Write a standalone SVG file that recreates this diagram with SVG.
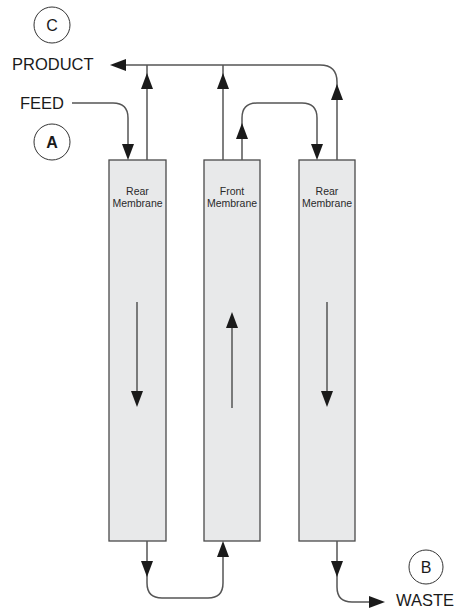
<svg xmlns="http://www.w3.org/2000/svg" width="454" height="611" viewBox="0 0 454 611">
<style>
.box{fill:#e8e9ea;stroke:#4a4a4a;stroke-width:1.3}
.ln{fill:none;stroke:#555;stroke-width:1.5}
.ah{fill:#1a1a1a}
.lbl{font-family:"Liberation Sans",Arial,sans-serif;font-size:16.5px;fill:#1a1a1a}
.blbl{font-family:"Liberation Sans",Arial,sans-serif;font-size:10.5px;fill:#2a2a2a;text-anchor:middle}
.cir{fill:#fff;stroke:#333;stroke-width:1}
.clt{font-family:"Liberation Sans",Arial,sans-serif;font-size:16px;fill:#1a1a1a;text-anchor:middle}
</style>
<defs>
<path id="ah" d="M0,0 L-6,16 L6,16 Z"/>
</defs>
<rect width="454" height="611" fill="#fff"/>
<g id="circleC"><circle class="cir" cx="52" cy="25" r="18"/><text class="clt" x="52" y="31">C</text></g>
<g id="circleA"><circle class="cir" cx="52" cy="142" r="18"/><text class="clt" x="52" y="148" font-weight="bold">A</text></g>
<g id="circleB"><circle class="cir" cx="426" cy="567" r="17"/><text class="clt" x="426" y="573">B</text></g>
<g id="product"><text class="lbl" x="12" y="70">PRODUCT</text></g>
<g id="feed"><text class="lbl" x="20" y="109">FEED</text></g>
<g id="waste"><text class="lbl" x="396" y="606">WASTE</text></g>
<g id="box1"><rect class="box" x="109" y="160" width="57" height="381"/><text class="blbl" x="137.5" y="195">Rear</text><text class="blbl" x="137.5" y="207">Membrane</text></g>
<g id="box2"><rect class="box" x="204" y="160" width="56" height="381"/><text class="blbl" x="232" y="195">Front</text><text class="blbl" x="232" y="207">Membrane</text></g>
<g id="box3"><rect class="box" x="299" y="160" width="56" height="381"/><text class="blbl" x="327" y="195">Rear</text><text class="blbl" x="327" y="207">Membrane</text></g>
<g id="connectors">
<path class="ln" d="M72,103 H113 Q128,103 128,118 V150"/>
<use href="#ah" class="ah" transform="translate(128,160) rotate(180)"/>
<path class="ln" d="M147,160 V65"/>
<use href="#ah" class="ah" transform="translate(147,73)"/>
<path class="ln" d="M223,160 V65"/>
<use href="#ah" class="ah" transform="translate(223,73)"/>
<path class="ln" d="M337,160 V82 Q337,65 320,65 H120"/>
<use href="#ah" class="ah" transform="translate(337,84)"/>
<use href="#ah" class="ah" transform="translate(110,65) rotate(-90)"/>
<path class="ln" d="M242,160 V118 Q242,103 257,103 H302 Q317,103 317,118 V150"/>
<use href="#ah" class="ah" transform="translate(242,123)"/>
<use href="#ah" class="ah" transform="translate(317,160) rotate(180)"/>
<path class="ln" d="M147,541 V583 Q147,598 162,598 H208 Q223,598 223,583 V551"/>
<use href="#ah" class="ah" transform="translate(147,577) rotate(180)"/>
<use href="#ah" class="ah" transform="translate(223,541)"/>
<path class="ln" d="M337,541 V587 Q337,602 352,602 H375"/>
<use href="#ah" class="ah" transform="translate(337,577) rotate(180)"/>
<use href="#ah" class="ah" transform="translate(385,602) rotate(90)"/>
<path class="ln" d="M137,302 V396"/>
<use href="#ah" class="ah" transform="translate(137,407) rotate(180)"/>
<path class="ln" d="M232,408 V320"/>
<use href="#ah" class="ah" transform="translate(232,312)"/>
<path class="ln" d="M327,302 V396"/>
<use href="#ah" class="ah" transform="translate(327,407) rotate(180)"/>
</g>
</svg>
